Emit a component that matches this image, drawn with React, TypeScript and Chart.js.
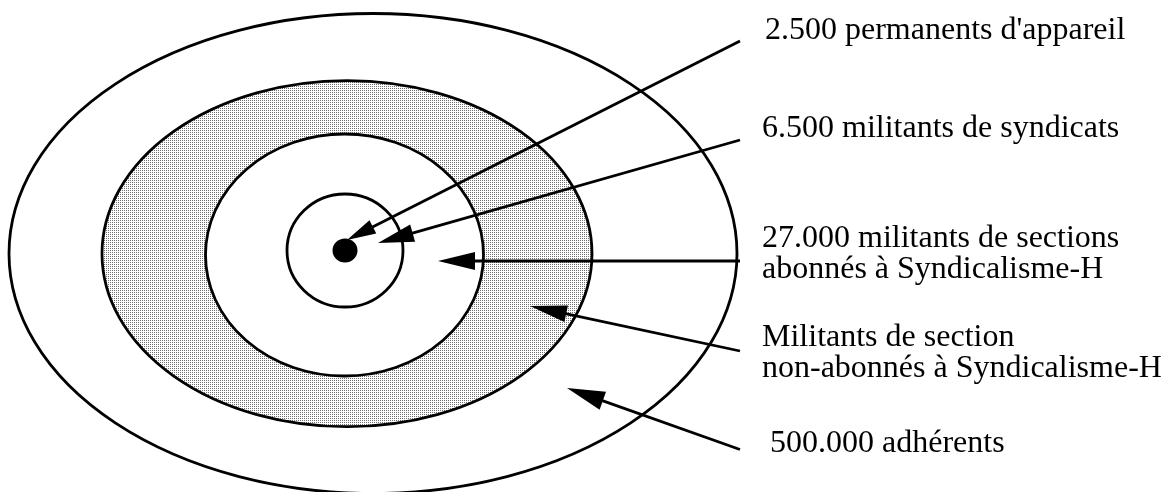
import React, { useEffect, useRef } from "react";
import { Chart, registerables } from "chart.js";

Chart.register(...registerables);

// Concentric groups (outermost first), in diagram units
const ringNames = [
  "adhérents",
  "militants de section non-abonnés",
  "militants de sections abonnés",
  "militants de syndicats",
  "permanents d'appareil",
];
const ringCenterX = [373, 347, 344.5, 345, 345];
const ringCenterY = [253.5, 253.7, 255, 250.5, 250.5];
const ringRadiusX = [364, 245, 139, 58, 12.5];
const ringRadiusY = [240, 173, 121, 56.5, 12];

// Arrows: from label side (tail) to the ring (tip)
const arrowTailX = [740, 740, 740, 740, 740];
const arrowTailY = [41, 140, 261, 351, 449.5];
const arrowTipX = [347, 378, 438, 530, 567];
const arrowTipY = [240, 243, 261, 306, 388];

// Labels
const labelLines = [
  ["2.500 permanents d'appareil"],
  ["6.500 militants de syndicats"],
  ["27.000 militants de sections", "abonnés à Syndicalisme-H"],
  ["Militants de section", "non-abonnés à Syndicalisme-H"],
  ["500.000 adhérents"],
];
const labelX = [765, 762, 762, 762, 770];
const labelY = [39, 137, 247, 346, 452];

const HEAD_LEN = [29, 36, 37, 37, 38];
const HEAD_HALF = [7.5, 9, 9, 8.5, 9.5];
const LINE_W = 2.8;
const LINE_GAP = 31;

function makeStipple(ctx: CanvasRenderingContext2D) {
  const tile = document.createElement("canvas");
  tile.width = 2;
  tile.height = 2;
  const t = tile.getContext("2d")!;
  t.fillStyle = "#ffffff";
  t.fillRect(0, 0, 2, 2);
  t.fillStyle = "#707070";
  t.fillRect(0, 0, 1, 1);
  return ctx.createPattern(tile, "repeat");
}

const diagramPlugin = {
  id: "diagram",
  beforeDatasetsDraw(chart: any) {
    const { ctx, scales } = chart;
    const xs = scales.x;
    const ys = scales.y;
    ctx.save();
    ctx.fillStyle = "#ffffff";
    ctx.fillRect(0, 0, chart.width, chart.height);
    const stipple = makeStipple(ctx);
    const fills: any[] = ["#ffffff", stipple, "#ffffff", "#ffffff", "#000000"];
    ringNames.forEach((_, i) => {
      const cx = xs.getPixelForValue(ringCenterX[i]);
      const cy = ys.getPixelForValue(ringCenterY[i]);
      const rx = Math.abs(xs.getPixelForValue(ringCenterX[i] + ringRadiusX[i]) - cx);
      const ry = Math.abs(ys.getPixelForValue(ringCenterY[i] + ringRadiusY[i]) - cy);
      ctx.beginPath();
      ctx.ellipse(cx, cy, rx, ry, 0, 0, Math.PI * 2);
      ctx.fillStyle = fills[i];
      ctx.fill();
      if (i < ringNames.length - 1) {
        ctx.lineWidth = LINE_W;
        ctx.strokeStyle = "#000000";
        ctx.stroke();
      }
    });
    ctx.restore();
  },
  afterDatasetsDraw(chart: any) {
    const { ctx, scales } = chart;
    const xs = scales.x;
    const ys = scales.y;
    ctx.save();
    ctx.fillStyle = "#000000";
    arrowTipX.forEach((_, i) => {
      const tx = xs.getPixelForValue(arrowTipX[i]);
      const ty = ys.getPixelForValue(arrowTipY[i]);
      const sx = xs.getPixelForValue(arrowTailX[i]);
      const sy = ys.getPixelForValue(arrowTailY[i]);
      const len = Math.hypot(sx - tx, sy - ty);
      const ux = (sx - tx) / len;
      const uy = (sy - ty) / len;
      const bx = tx + ux * HEAD_LEN[i];
      const by = ty + uy * HEAD_LEN[i];
      ctx.beginPath();
      ctx.moveTo(tx, ty);
      ctx.lineTo(bx - uy * HEAD_HALF[i], by + ux * HEAD_HALF[i]);
      ctx.lineTo(bx + uy * HEAD_HALF[i], by - ux * HEAD_HALF[i]);
      ctx.closePath();
      ctx.fill();
    });
    ctx.restore();
  },
  afterDraw(chart: any) {
    const { ctx, scales } = chart;
    const xs = scales.x;
    const ys = scales.y;
    ctx.save();
    ctx.fillStyle = "#000000";
    ctx.font = '32px "Liberation Serif", "Times New Roman", serif';
    ctx.textAlign = "left";
    ctx.textBaseline = "alphabetic";
    labelLines.forEach((lines, i) => {
      lines.forEach((line, j) => {
        ctx.fillText(
          line,
          xs.getPixelForValue(labelX[i]),
          ys.getPixelForValue(labelY[i] + j * LINE_GAP)
        );
      });
    });
    ctx.restore();
  },
};

export default function App() {
  const ref = useRef<HTMLCanvasElement | null>(null);

  useEffect(() => {
    if (!ref.current) return;
    const datasets = arrowTipX.map((_, i) => {
      // line runs from the tail to the base of the arrow head
      const dx = arrowTailX[i] - arrowTipX[i];
      const dy = arrowTailY[i] - arrowTipY[i];
      const len = Math.hypot(dx, dy);
      const k = (HEAD_LEN[i] - 2) / len;
      return {
        label: ringNames[i],
        data: [
          { x: arrowTailX[i], y: arrowTailY[i] },
          { x: arrowTipX[i] + dx * k, y: arrowTipY[i] + dy * k },
        ],
        showLine: true,
        borderColor: "#000000",
        borderWidth: LINE_W,
        pointRadius: 0,
        pointHoverRadius: 0,
        fill: false,
        tension: 0,
      };
    });
    const chart = new Chart(ref.current, {
      type: "scatter",
      data: { datasets },
      options: {
        responsive: false,
        animation: false,
        events: [],
        layout: { padding: 0 },
        scales: {
          x: { type: "linear", min: 0, max: 1171, display: false },
          y: { type: "linear", min: 0, max: 492, reverse: true, display: false },
        },
        plugins: {
          legend: { display: false },
          tooltip: { enabled: false },
          title: { display: false },
        },
      },
      plugins: [diagramPlugin],
    } as any);
    return () => chart.destroy();
  }, []);

  return (
    <div
      style={{
        position: "fixed",
        left: 0,
        top: 0,
        width: 1171,
        height: 492,
        background: "#ffffff",
      }}
    >
      <canvas ref={ref} width={1171} height={492} style={{ display: "block" }} />
    </div>
  );
}
